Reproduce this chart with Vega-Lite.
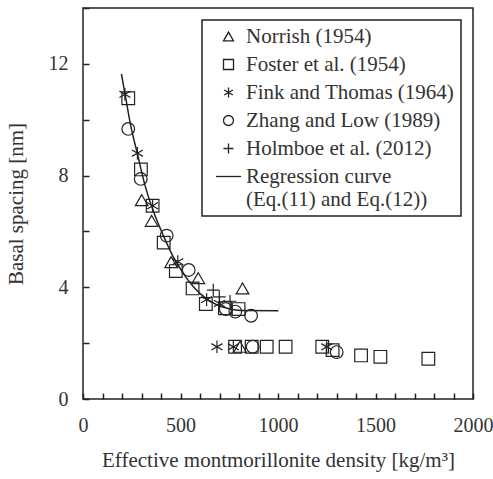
{
  "$schema": "https://vega.github.io/schema/vega-lite/v6.json",
  "width": 390,
  "height": 391,
  "autosize": {"type": "none"},
  "padding": {"left": 83, "top": 8, "right": 20, "bottom": 80},
  "config": {
    "font": "Liberation Serif",
    "view": {"stroke": "#222", "strokeWidth": 1.5},
    "legend": {"strokeColor": "#222", "strokeWidth": 1.5, "fillColor": "white"},
    "axis": {
      "grid": false,
      "domain": false,
      "ticks": true,
      "zindex": 1,
      "offset": -6,
      "tickColor": "#222",
      "tickOpacity": 1,
      "tickWidth": 1.5,
      "tickSize": 6,
      "labelFont": "Liberation Serif",
      "labelFontSize": 20,
      "labelColor": "#333",
      "titleFont": "Liberation Serif",
      "titleFontSize": 21,
      "titleFontWeight": "normal",
      "titleColor": "#333",
      "labelOverlap": false,
      "labelFlush": false
    }
  },
  "datasets": {
    "points": [
      {"source": "Norrish (1954)", "density": 301, "spacing": 7.12},
      {"source": "Norrish (1954)", "density": 352, "spacing": 6.38},
      {"source": "Norrish (1954)", "density": 452, "spacing": 4.9},
      {"source": "Norrish (1954)", "density": 591, "spacing": 4.33},
      {"source": "Norrish (1954)", "density": 818, "spacing": 3.96},
      {"source": "Norrish (1954)", "density": 805, "spacing": 1.87},
      {"source": "Foster et al. (1954)", "density": 232, "spacing": 10.77},
      {"source": "Foster et al. (1954)", "density": 297, "spacing": 8.22},
      {"source": "Foster et al. (1954)", "density": 357, "spacing": 6.92},
      {"source": "Foster et al. (1954)", "density": 414, "spacing": 5.6},
      {"source": "Foster et al. (1954)", "density": 476, "spacing": 4.58},
      {"source": "Foster et al. (1954)", "density": 562, "spacing": 3.96},
      {"source": "Foster et al. (1954)", "density": 630, "spacing": 3.4},
      {"source": "Foster et al. (1954)", "density": 728, "spacing": 3.25},
      {"source": "Foster et al. (1954)", "density": 798, "spacing": 3.22},
      {"source": "Foster et al. (1954)", "density": 780, "spacing": 1.87},
      {"source": "Foster et al. (1954)", "density": 865, "spacing": 1.87},
      {"source": "Foster et al. (1954)", "density": 942, "spacing": 1.87},
      {"source": "Foster et al. (1954)", "density": 1039, "spacing": 1.87},
      {"source": "Foster et al. (1954)", "density": 1227, "spacing": 1.87},
      {"source": "Foster et al. (1954)", "density": 1280, "spacing": 1.75},
      {"source": "Foster et al. (1954)", "density": 1426, "spacing": 1.56},
      {"source": "Foster et al. (1954)", "density": 1525, "spacing": 1.51},
      {"source": "Foster et al. (1954)", "density": 1771, "spacing": 1.44},
      {"source": "Fink and Thomas (1964)", "density": 215, "spacing": 10.91},
      {"source": "Fink and Thomas (1964)", "density": 279, "spacing": 8.8},
      {"source": "Fink and Thomas (1964)", "density": 357, "spacing": 6.92},
      {"source": "Fink and Thomas (1964)", "density": 486, "spacing": 4.92},
      {"source": "Fink and Thomas (1964)", "density": 634, "spacing": 3.56},
      {"source": "Fink and Thomas (1964)", "density": 700, "spacing": 3.42},
      {"source": "Fink and Thomas (1964)", "density": 687, "spacing": 1.87},
      {"source": "Fink and Thomas (1964)", "density": 771, "spacing": 1.87},
      {"source": "Fink and Thomas (1964)", "density": 1250, "spacing": 1.87},
      {"source": "Zhang and Low (1989)", "density": 232, "spacing": 9.67},
      {"source": "Zhang and Low (1989)", "density": 296, "spacing": 7.88},
      {"source": "Zhang and Low (1989)", "density": 429, "spacing": 5.85},
      {"source": "Zhang and Low (1989)", "density": 542, "spacing": 4.62},
      {"source": "Zhang and Low (1989)", "density": 732, "spacing": 3.22},
      {"source": "Zhang and Low (1989)", "density": 781, "spacing": 3.13},
      {"source": "Zhang and Low (1989)", "density": 862, "spacing": 2.98},
      {"source": "Zhang and Low (1989)", "density": 870, "spacing": 1.87},
      {"source": "Zhang and Low (1989)", "density": 1301, "spacing": 1.68},
      {"source": "Holmboe et al. (2012)", "density": 668, "spacing": 3.9},
      {"source": "Holmboe et al. (2012)", "density": 699, "spacing": 3.66},
      {"source": "Holmboe et al. (2012)", "density": 754, "spacing": 3.5}
    ],
    "curve": [
      {"density": 197, "spacing": 11.64},
      {"density": 215, "spacing": 10.94},
      {"density": 245, "spacing": 9.78},
      {"density": 279, "spacing": 8.78},
      {"density": 318, "spacing": 7.65},
      {"density": 361, "spacing": 6.72},
      {"density": 412, "spacing": 5.85},
      {"density": 463, "spacing": 5.09},
      {"density": 514, "spacing": 4.5},
      {"density": 566, "spacing": 4.02},
      {"density": 631, "spacing": 3.6},
      {"density": 690, "spacing": 3.36},
      {"density": 750, "spacing": 3.23},
      {"density": 810, "spacing": 3.17},
      {"density": 1002, "spacing": 3.16}
    ]
  },
  "encoding": {
    "x": {
      "field": "density",
      "type": "quantitative",
      "scale": {"domain": [0, 2000], "nice": false},
      "axis": {
        "title": "Effective montmorillonite density [kg/m³]",
        "values": [0,100,200,300,400,500,600,700,800,900,1000,1100,1200,1300,1400,1500,1600,1700,1800,1900,2000],
        "labelExpr": "datum.value % 500 === 0 ? datum.label : ''",
        "format": "d",
        "labelPadding": 16,
        "titlePadding": 14
      }
    },
    "y": {
      "field": "spacing",
      "type": "quantitative",
      "scale": {"domain": [0, 14], "nice": false},
      "axis": {
        "title": "Basal spacing [nm]",
        "values": [0,2,4,6,8,10,12,14],
        "labelExpr": "datum.value % 4 === 0 && datum.value < 14 ? datum.label : ''",
        "labelPadding": 15,
        "titlePadding": 22
      }
    }
  },
  "layer": [
    {
      "data": {"name": "curve"},
      "mark": {"type": "line", "color": "#222", "strokeWidth": 1.5, "interpolate": "monotone"}
    },
    {
      "data": {"name": "points"},
      "mark": {"type": "point", "filled": false, "stroke": "#222", "strokeWidth": 1.2, "size": 160, "opacity": 1},
      "encoding": {
        "shape": {
          "field": "source",
          "type": "nominal",
          "scale": {
            "domain": ["Norrish (1954)", "Foster et al. (1954)", "Fink and Thomas (1964)", "Zhang and Low (1989)", "Holmboe et al. (2012)", "Regression curve"],
            "range": ["triangle-up", "square", "M0,-1L0,1M-0.87,-0.5L0.87,0.5M-0.87,0.5L0.87,-0.5", "circle", "M-1,0L1,0M0,-1L0,1", "M-2.5,0L2.5,0"]
          },
          "legend": {
            "title": null,
            "orient": "top-right",
            "offset": 12,
            "padding": 6,
            "labelFont": "Liberation Serif",
            "labelFontSize": 21,
            "labelColor": "#333",
            "labelLimit": 400,
            "symbolSize": 100,
            "symbolStrokeColor": "#222",
            "symbolStrokeWidth": 1.3,
            "rowPadding": 6,
            "labelOffset": 7,
            "symbolOffset": 10,
            "labelExpr": "datum.label === 'Regression curve' ? ['Regression curve', '\u00a0\u00a0\u00a0\u00a0\u00a0(Eq.(11) and Eq.(12))'] : datum.label + '\u00a0\u00a0'"
          }
        }
      }
    }
  ]
}
